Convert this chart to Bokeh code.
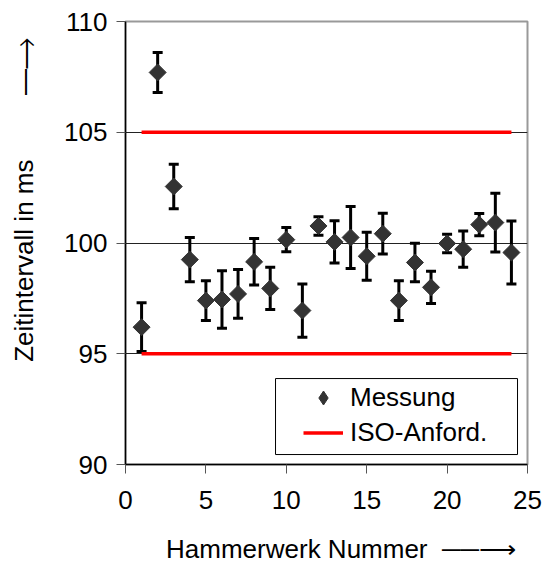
import numpy as np
from bokeh.plotting import figure
from bokeh.models import (ColumnDataSource, Whisker, TeeHead, Legend, LegendItem, FixedTicker,
                          BoxAnnotation)
from bokeh.embed import file_html
from bokeh.resources import INLINE

# ---- data ----
hammer_nr = list(range(1, 25))
zeit_ms = [96.2, 107.7, 102.55, 99.25, 97.4, 97.45, 97.7, 99.15, 97.95, 100.15, 96.95, 100.77,
           100.05, 100.25, 99.4, 100.42, 97.4, 99.12, 98.0, 99.98, 99.72, 100.83, 100.92, 99.57]
fehler_ms = [1.1, 0.9, 1.0, 1.0, 0.9, 1.3, 1.1, 1.05, 0.95, 0.55, 1.2, 0.42,
             0.95, 1.4, 1.08, 0.92, 0.9, 0.87, 0.73, 0.42, 0.82, 0.5, 1.33, 1.42]
iso_x = [1, 24]
iso_oben = [105, 105]
iso_unten = [95, 95]
x_ticks = [0, 5, 10, 15, 20, 25]
y_ticks = [90, 95, 100, 105, 110]

FONT = "Liberation Sans"
FS = "26px"
NB = "\u00a0"

src = ColumnDataSource(dict(
    x=hammer_nr, y=zeit_ms,
    lower=[v - e for v, e in zip(zeit_ms, fehler_ms)],
    upper=[v + e for v, e in zip(zeit_ms, fehler_ms)],
))

p = figure(width=544, height=572, x_range=(0, 25), y_range=(90, 110),
           output_backend="svg", toolbar_location=None,
           min_border_left=125, min_border_right=17, min_border_top=21, min_border_bottom=108)
p.background_fill_color = "white"
p.border_fill_color = "white"
p.outline_line_color = "#999999"
p.outline_line_width = 2

p.xgrid.visible = False
p.ygrid.ticker = FixedTicker(ticks=[95, 100, 105])
p.ygrid.grid_line_color = "#222222"
p.ygrid.grid_line_width = 1

for ax in (p.xaxis[0], p.yaxis[0]):
    ax.axis_line_color = "black"
    ax.axis_line_width = 1.5
    ax.major_tick_line_color = "#555555"
    ax.major_tick_line_width = 1
    ax.major_tick_out = 9
    ax.major_tick_in = 0
    ax.minor_tick_line_color = None
    ax.major_label_text_font = FONT
    ax.major_label_text_font_size = FS
    ax.major_label_text_color = "black"
    ax.axis_label_text_font = FONT
    ax.axis_label_text_font_size = FS
    ax.axis_label_text_font_style = "normal"
    ax.axis_label_text_color = "black"

p.xaxis.ticker = FixedTicker(ticks=x_ticks)
p.yaxis.ticker = FixedTicker(ticks=y_ticks)
p.xaxis.major_label_standoff = 17
p.yaxis.major_label_standoff = 9

p.xaxis.axis_label = NB * 4 + "Hammerwerk Nummer" + NB * 2 + "\u2500\u2500\u27f6"
p.xaxis.axis_label_standoff = 22
p.yaxis.axis_label = NB * 12 + "Zeitintervall in ms" + NB * 9 + "\u23af\u23af\u27f6"
p.yaxis.axis_label_standoff = 22

# ISO lines
iso1 = p.line(iso_x, iso_oben, line_color="#FF0000", line_width=3.5)
p.line(iso_x, iso_unten, line_color="#FF0000", line_width=3.5)

# error bars
wh = Whisker(source=src, base="x", upper="upper", lower="lower", dimension="height",
             line_color="black", line_width=3,
             upper_head=TeeHead(size=10, line_color="black", line_width=3),
             lower_head=TeeHead(size=10, line_color="black", line_width=3))
p.add_layout(wh)

# diamond (for legend symbol) underneath the rotated-square markers
leg_pts = p.scatter("x", "y", source=src, marker="diamond", size=12,
                    fill_color="#333333", line_color="#333333")
p.scatter("x", "y", source=src, marker="square", angle=np.pi / 4, size=12,
          fill_color="#333333", line_color="#333333")

# legend frame
p.add_layout(BoxAnnotation(left=9.33, right=24.38, bottom=90.45, top=93.88,
                           fill_color="white", fill_alpha=1,
                           line_color="black", line_width=1, line_alpha=1))

legend = Legend(items=[LegendItem(label="Messung", renderers=[leg_pts]),
                       LegendItem(label="ISO-Anford.", renderers=[iso1])],
                location=(178, 14), orientation="vertical",
                border_line_color=None, background_fill_alpha=0,
                padding=0, spacing=0, glyph_width=40, glyph_height=35,
                label_standoff=7, margin=0,
                label_text_font=FONT, label_text_font_size=FS, label_text_color="black")
p.add_layout(legend, "center")

open("out.html", "w").write(file_html(p, INLINE))
